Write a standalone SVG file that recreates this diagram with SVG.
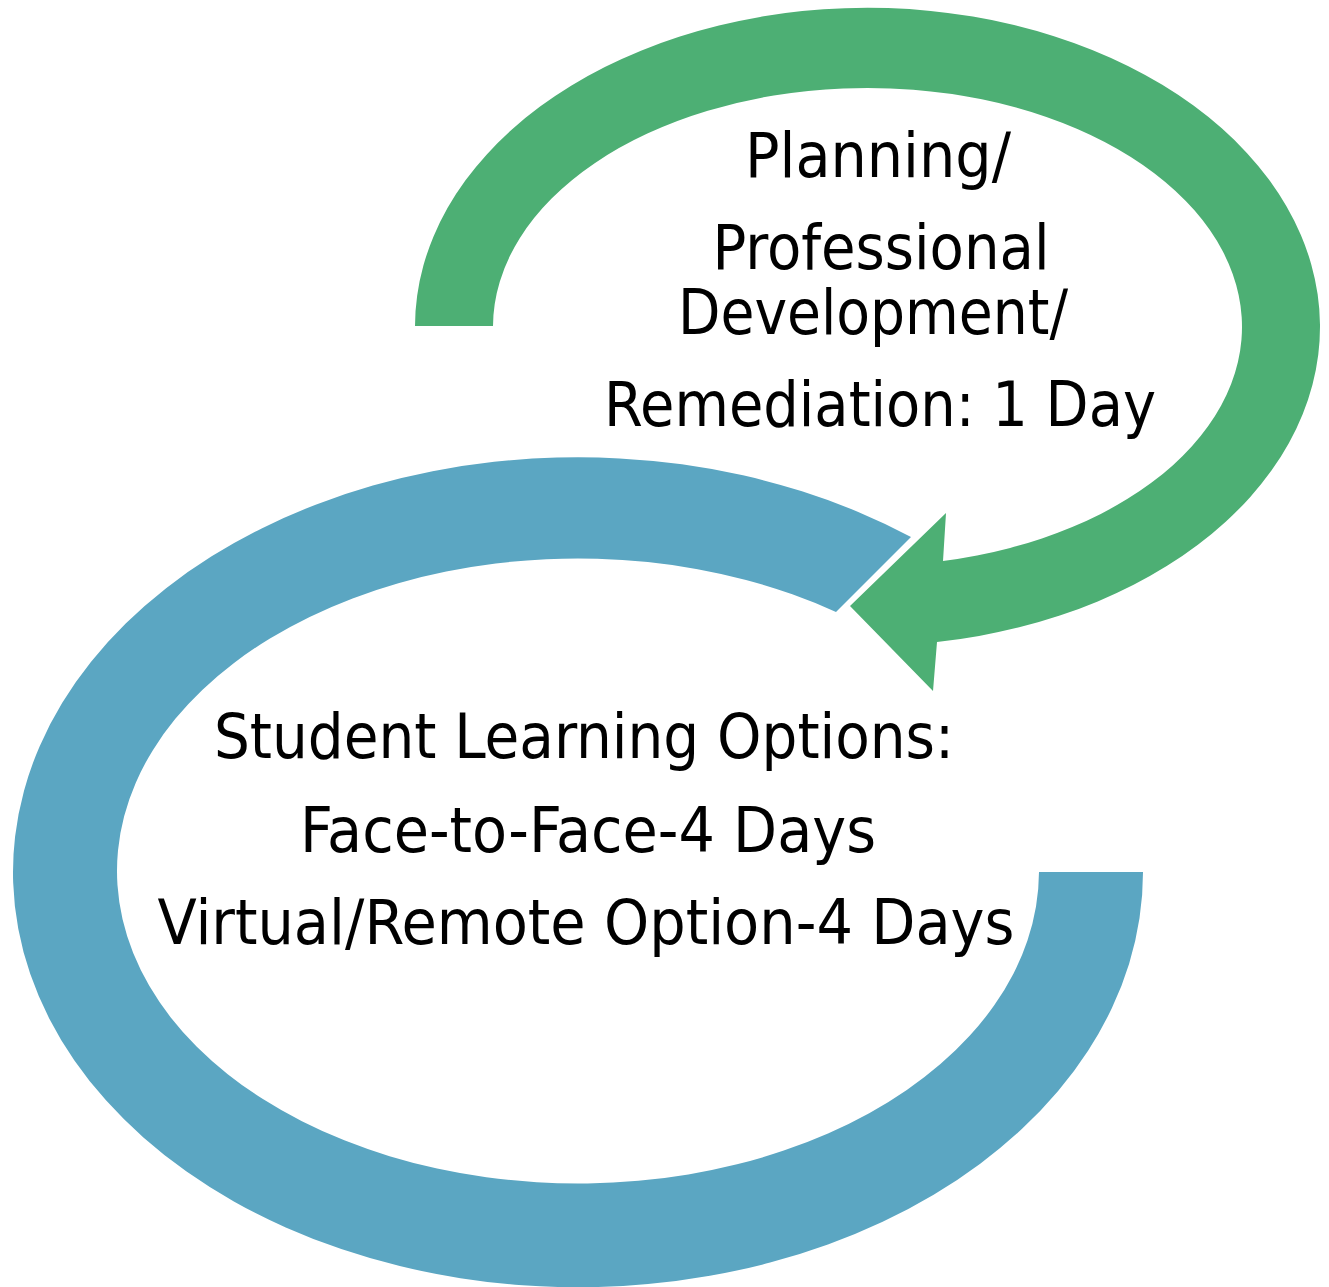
<svg xmlns="http://www.w3.org/2000/svg" width="1329" height="1287" viewBox="0 0 1329 1287">
<style>
.lbl{font-family:"DejaVu Sans Condensed","DejaVu Sans","Liberation Sans",sans-serif;font-size:62px;fill:#000;text-anchor:middle}
</style>
<rect width="1329" height="1287" fill="#fff"/>
<g id="connectors">
<path id="blue-ring" fill="#5BA6C2" d="M1143,872 A565,415 0 1 1 911,537 L836,612 A461,312.5 0 1 0 1039,872 Z"/>
<path id="green-arrow" fill="#4DAF74" d="M415,326 A452.5,319 0 1 1 937,642 L933,691 L850,606 L946,513 L943,561 A374.5,239 0 1 0 493,326 Z"/>
</g>
<g id="node-planning">
<text class="lbl" x="878" y="177" textLength="266" lengthAdjust="spacingAndGlyphs">Planning/</text>
<text class="lbl" x="881" y="269" textLength="337" lengthAdjust="spacingAndGlyphs">Professional</text>
<text class="lbl" x="873" y="334" textLength="390" lengthAdjust="spacingAndGlyphs">Development/</text>
<text class="lbl" x="880" y="426" textLength="552" lengthAdjust="spacingAndGlyphs">Remediation: 1 Day</text>
</g>
<g id="node-student">
<text class="lbl" x="584" y="758" textLength="740" lengthAdjust="spacingAndGlyphs">Student Learning Options:</text>
<text class="lbl" x="588" y="852" textLength="576" lengthAdjust="spacingAndGlyphs">Face-to-Face-4 Days</text>
<text class="lbl" x="586" y="944" textLength="857" lengthAdjust="spacingAndGlyphs">Virtual/Remote Option-4 Days</text>
</g>
</svg>
